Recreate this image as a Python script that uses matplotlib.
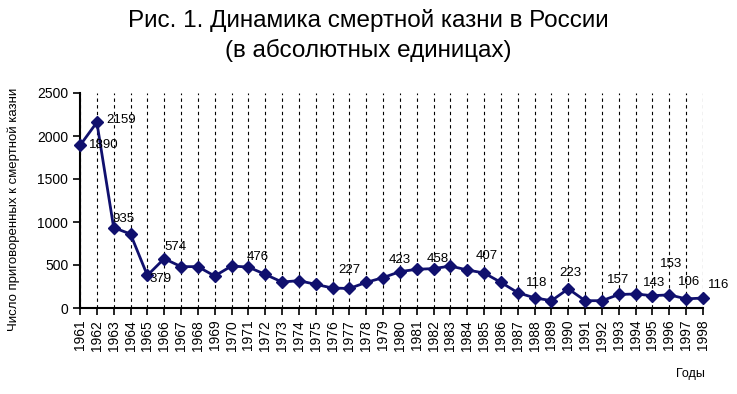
import matplotlib
matplotlib.use("Agg")
import matplotlib.pyplot as plt

plt.rcParams["font.family"] = ["Liberation Sans", "DejaVu Sans"]

years = list(range(1961, 1999))
values = [1890, 2159, 935, 860, 379, 574, 481, 481, 372, 488,
          476, 391, 302, 318, 275, 232, 227, 298, 353, 423,
          450, 458, 488, 442, 407, 298, 178, 118, 85, 223,
          85, 85, 157, 163, 143, 153, 106, 116]

# data labels shown on the chart: year -> (dx, dy, ha) offsets in pixels
label_years = [1961, 1962, 1963, 1965, 1966, 1971, 1977, 1980, 1982,
               1985, 1988, 1990, 1993, 1995, 1996, 1997, 1998]
label_pos = {
    1961: (9, 0, "left"), 1962: (9, 2, "left"), 1963: (-1, 9, "left"),
    1965: (2, -4, "left"), 1966: (0, 12, "left"), 1971: (-2, 10, "left"),
    1977: (0, 18, "center"), 1980: (0, 12, "center"), 1982: (4, 10, "center"),
    1985: (3, 17, "center"), 1988: (2, 15, "center"), 1990: (2, 16, "center"),
    1993: (-1, 14, "center"), 1995: (2, 13, "center"), 1996: (2, 31, "center"),
    1997: (3, 17, "center"), 1998: (5, 13, "left"),
}

line_color = "#10106e"

fig = plt.figure(figsize=(7.37, 3.94), dpi=100)
ax = fig.add_axes([80 / 737, 1 - 308 / 394, (703 - 80) / 737, (308 - 93) / 394])

for yr in years:
    ax.axvline(yr, color="black", lw=0.8, ls=(0, (3, 3)), zorder=1)

ax.plot(years, values, color=line_color, lw=2, marker="D", markersize=6.5,
        clip_on=False, zorder=3)

for yr in label_years:
    v = values[years.index(yr)]
    dx, dy, ha = label_pos[yr]
    ax.annotate(str(v), (yr, v), xytext=(dx, dy), textcoords="offset pixels",
                ha=ha, va="center", fontsize=9.5, zorder=4)

ax.set_xlim(1961, 1998)
ax.set_ylim(0, 2500)
ax.set_yticks(range(0, 2501, 500))
ax.set_xticks(years)
ax.set_xticklabels([str(y) for y in years], rotation=90)
ax.tick_params(axis="both", direction="out", length=5, width=1.2, labelsize=10, colors="black")
ax.spines["top"].set_visible(False)
ax.spines["right"].set_visible(False)
ax.spines["left"].set_linewidth(1.5)
ax.spines["bottom"].set_linewidth(1.5)

fig.text(14 / 737, 1 - 209 / 394, "Число приговоренных к смертной казни",
         rotation=90, ha="center", va="center", fontsize=9.5)
fig.text(705 / 737, 1 - 374 / 394, "Годы", ha="right", va="center", fontsize=9)
fig.text(0.5, 1 - 20 / 394, "Рис. 1. Динамика смертной казни в России",
         ha="center", va="center", fontsize=17.5)
fig.text(0.5, 1 - 50 / 394, "(в абсолютных единицах)",
         ha="center", va="center", fontsize=17.5)

fig.savefig("out.png", dpi=100)
